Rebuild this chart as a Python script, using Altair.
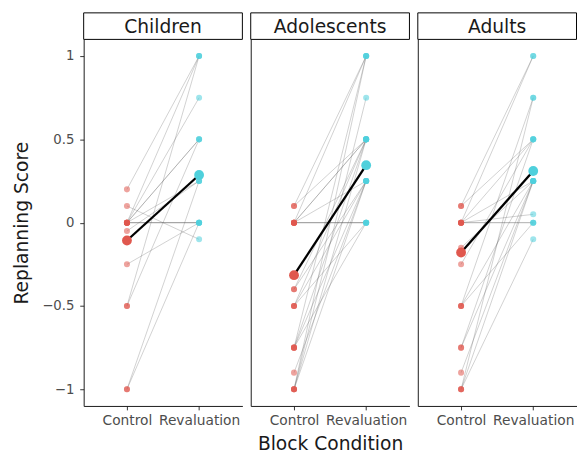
import altair as alt
import pandas as pd

groups = ["Children", "Adolescents", "Adults"]
conditions = ["Control", "Revaluation"]

children_control = [0.2, 0, 0, 0, 0, 0, 0, 0, 0, 0.1, -0.05, -0.25, -0.5, -0.5, -1.0, -1.0]
children_reval = [1.0, 1.0, 0.75, 0.5, 0.5, 0.25, 0, 0, 0, -0.1, 0.25, 0, 0.5, 1.0, 0.25, 0]
children_mean = [-0.107, 0.286]

adolescents_control = [0.1, 0.1, 0, 0, 0, 0, 0, 0, 0, -0.4, -0.4, -0.5, -0.5, -0.5,
                       -0.75, -0.75, -0.75, -0.75, -0.9, -1.0, -1.0, -1.0, -1.0]
adolescents_reval = [1.0, 0.5, 1.0, 0.5, 0.5, 0.25, 0, 0, 0, 0.5, 0.25, 0, 0.5, 0.25,
                     0.5, 0.25, 1.0, 0, 0.25, 0.75, 0.5, 0.25, 1.0]
adolescents_mean = [-0.315, 0.345]

adults_control = [0.1, 0.1, 0, 0, 0, 0, 0, 0, -0.15, -0.25, -0.5, -0.5, -0.5,
                  -0.75, -0.75, -0.9, -1.0, -1.0, -1.0]
adults_reval = [1.0, 0.5, 1.0, 0.5, 0.25, 0, 0, 0.05, 0.25, 0.5, 0, 0.25, 0.75,
                0.5, 0.25, 0.25, -0.1, 0.75, 0.25]
adults_mean = [-0.179, 0.31]

data = {
    "Children": (children_control, children_reval, children_mean),
    "Adolescents": (adolescents_control, adolescents_reval, adolescents_mean),
    "Adults": (adults_control, adults_reval, adults_mean),
}

RED = "#E0584E"
CYAN = "#4FD0DC"
FONT = "DejaVu Sans"
W, H = 161.5, 373
STRIP = 27

color = alt.Color("cond:N", scale=alt.Scale(domain=conditions, range=[RED, CYAN]), legend=None)
yscale = alt.Scale(domain=[-1.1, 1.1], nice=False, zero=False)


def panel(name, idx):
    ctrl, rev, mean = data[name]
    rows = []
    for i, (c, r) in enumerate(zip(ctrl, rev)):
        rows.append({"subject": i, "cond": "Control", "score": c})
        rows.append({"subject": i, "cond": "Revaluation", "score": r})
    df = pd.DataFrame(rows)
    mdf = pd.DataFrame({"cond": conditions, "score": mean})

    xaxis = alt.Axis(title="Block Condition" if idx == 1 else None, labelAngle=0,
                     labelPadding=4, tickSize=4, titlePadding=7, labelFontSize=14)
    if idx == 0:
        yaxis = alt.Axis(title="Replanning Score", values=[-1, -0.5, 0, 0.5, 1], format="~g",
                         tickSize=4, labelPadding=6, titlePadding=10, labelFontSize=13.5)
    else:
        yaxis = alt.Axis(title=None, labels=False, ticks=False, values=[-1, -0.5, 0, 0.5, 1])

    x = alt.X("cond:N", scale=alt.Scale(type="point", domain=conditions, padding=0.6), axis=xaxis)
    y = alt.Y("score:Q", scale=yscale, axis=yaxis)

    lines = alt.Chart(df).mark_line(color="#555555", opacity=0.34, strokeWidth=0.8).encode(
        x=x, y=y, detail="subject:N")
    pts = alt.Chart(df).mark_circle(size=38, opacity=0.55).encode(x=x, y=y, color=color)
    mline = alt.Chart(mdf).mark_line(color="black", strokeWidth=2.3).encode(x=x, y=y)
    mpts = alt.Chart(mdf).mark_circle(size=100, opacity=1).encode(x=x, y=y, color=color)

    sdf = pd.DataFrame({"t": [name]})
    strip = alt.Chart(sdf).mark_rect(fill="white", stroke="black", strokeWidth=1).encode(
        x=alt.value(0), x2=alt.value(W), y=alt.value(-STRIP), y2=alt.value(0))
    stext = alt.Chart(sdf).mark_text(font=FONT, fontSize=19, color="#1a1a1a", baseline="middle").encode(
        x=alt.value(W / 2), y=alt.value(-STRIP / 2 + 1), text="t:N")

    return alt.layer(lines, mline, pts, mpts, strip, stext).properties(width=W, height=H)


chart = alt.hconcat(*[panel(g, i) for i, g in enumerate(groups)], spacing=7).properties(
    padding={"left": 5, "top": 0, "right": 0, "bottom": 0}
).configure_view(stroke=None).configure_axis(
    grid=False,
    domainColor="#1a1a1a",
    domainWidth=1,
    tickColor="#333333",
    labelColor="#4d4d4d",
    labelFont=FONT,
    titleFont=FONT,
    titleFontSize=19,
    titleFontWeight="normal",
    titleColor="#1a1a1a",
)

chart.save("out.html", embed_options={"renderer": "svg", "actions": False})
